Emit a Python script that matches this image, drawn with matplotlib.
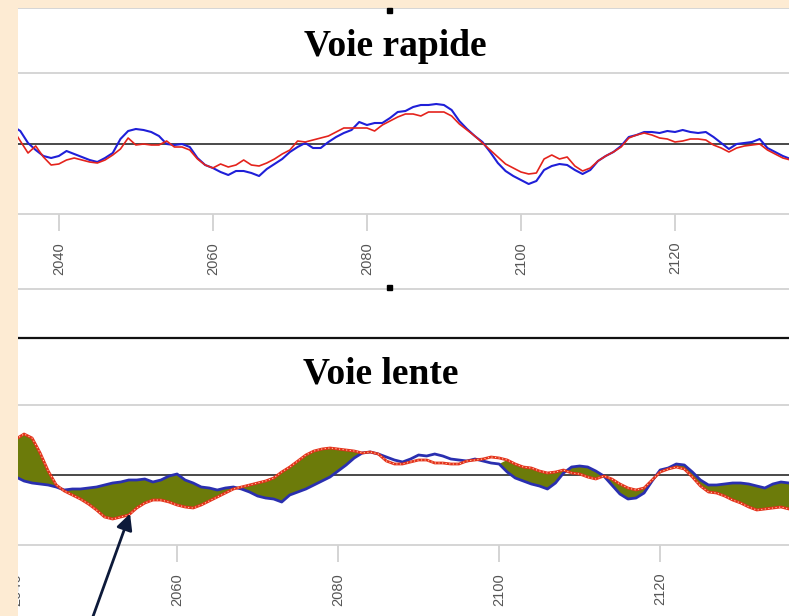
import numpy as np
import matplotlib
matplotlib.use('Agg')
import matplotlib.pyplot as plt
from matplotlib.lines import Line2D
from matplotlib.patches import Rectangle, FancyArrowPatch

plt.rcParams['font.family'] = ['Liberation Sans', 'DejaVu Sans']

W, H = 789, 616

# Voie rapide : ecarts relevés au km (bleu / rouge)
pk_rapide = np.arange(2034, 2136)
rapide_bleu = [18, 13, 1, -6, -12, -14, -12, -7, -10, -13,
               -16, -18, -14, -9, 5, 13, 15, 14, 12, 8,
               0, -1, 0, -3, -14, -21, -24, -28, -31, -27,
               -27, -29, -32, -25, -20, -15, -8, -3, 1, -4,
               -4, 2, 7, 11, 14, 22, 19, 21, 21, 26,
               32, 33, 37, 39, 39, 40, 39, 34, 23, 15,
               8, 2, -8, -19, -27, -32, -36, -40, -37, -26,
               -22, -20, -21, -26, -30, -26, -17, -12, -8, -2,
               7, 9, 12, 12, 11, 13, 12, 14, 12, 11,
               12, 7, 1, -5, 0, 1, 2, 5, -4, -8,
               -12, -15]
rapide_rouge = [15, 3, -9, -2, -13, -21, -20, -16, -14, -16,
                -18, -19, -16, -11, -5, 6, -1, 0, -1, -1,
                3, -3, -3, -6, -15, -21, -24, -20, -23, -21,
                -16, -21, -22, -19, -15, -10, -6, 3, 2, 4,
                6, 8, 12, 16, 16, 16, 16, 13, 19, 23,
                27, 30, 30, 28, 32, 32, 32, 28, 20, 14,
                8, 1, -6, -13, -20, -24, -28, -30, -29, -15,
                -11, -15, -13, -22, -27, -24, -17, -12, -8, -3,
                6, 9, 11, 9, 6, 5, 2, 3, 5, 5,
                4, -1, -4, -8, -4, -2, -1, 0, -6, -10,
                -14, -16]

# Voie lente
pk_lente = np.arange(2040, 2137)
lente_bleu = [-2, -6, -8, -9, -10, -12, -15, -14, -14, -13,
              -12, -10, -8, -7, -5, -5, -4, -7, -5, -1,
              1, -5, -8, -12, -13, -15, -13, -12, -14, -17,
              -21, -23, -24, -27, -20, -17, -14, -10, -6, -2,
              4, 10, 17, 22, 23, 21, 18, 15, 13, 16,
              20, 19, 21, 19, 16, 15, 14, 16, 14, 12,
              11, 3, -3, -6, -9, -11, -14, -8, 2, 8,
              9, 8, 4, -1, -10, -19, -24, -23, -18, -6,
              5, 7, 11, 10, 3, -5, -10, -10, -9, -8,
              -8, -9, -11, -13, -9, -7, -8]
lente_rouge = [36, 41, 37, 22, 4, -10, -16, -20, -24, -29,
               -35, -42, -44, -42, -40, -33, -28, -25, -25, -27,
               -30, -32, -33, -30, -26, -22, -18, -14, -12, -10,
               -8, -6, -3, 3, 8, 14, 20, 24, 26, 27,
               26, 25, 24, 22, 23, 21, 14, 11, 11, 13,
               15, 15, 12, 12, 11, 11, 14, 15, 16, 18,
               17, 15, 11, 8, 7, 4, 2, 3, 5, 2,
               1, -2, -4, -1, -4, -9, -13, -15, -13, -5,
               3, 6, 8, 6, -2, -11, -17, -18, -21, -25,
               -28, -32, -35, -34, -33, -32, -34]

ticks_pk = [2040, 2060, 2080, 2100, 2120]

fig = plt.figure(figsize=(W / 100, H / 100), dpi=100)
fig.patch.set_facecolor('white')


def fx(px):
    return px / W


def fy(py):
    return 1 - py / H


def hline(py, color='#d2d2d2', lw=1.3, x0=18):
    fig.add_artist(Line2D([fx(x0), 1], [fy(py), fy(py)], color=color, lw=lw))


def style_axes(ax):
    for s in ax.spines.values():
        s.set_visible(False)
    ax.set_yticks([])
    ax.set_xticks(ticks_pk)
    ax.tick_params(axis='x', length=12, width=1.2, color='#cdcdcd', pad=8,
                   labelsize=10.5, labelcolor='#555555', labelrotation=90)
    ax.axhline(0, color='#3a3a3a', lw=1.3, zorder=1)


# haut : voie rapide
ax1 = fig.add_axes([fx(18), fy(214), fx(W) - fx(18), (214 - 73) / H])
ax1.set_xlim(2034.7, 2134.8)
ax1.set_ylim(-70, 71)
style_axes(ax1)
ax1.plot(pk_rapide, rapide_bleu, color='#1f1fd8', lw=1.5, zorder=2)
ax1.plot(pk_rapide, rapide_rouge, color='#e4231c', lw=1.2, zorder=3)

# bas : voie lente
ax2 = fig.add_axes([fx(16), fy(545), fx(W) - fx(16), (545 - 405) / H])
ax2.set_xlim(2040.0, 2136.0)
ax2.set_ylim(-70, 70)
style_axes(ax2)
bleu = np.array(lente_bleu)
rouge = np.array(lente_rouge)
zone = (pk_lente < 2083) | (pk_lente > 2100)
ax2.fill_between(pk_lente, bleu, rouge, where=zone, interpolate=True,
                 color='#6c7b0a', lw=0, zorder=2)
ax2.plot(pk_lente, bleu, color='#2a2fb0', lw=2.0, zorder=3)
ax2.plot(pk_lente, rouge, color='#e4321c', lw=2.0, zorder=4)
ax2.plot(pk_lente, rouge, color='#ffd9b0', lw=0.7, ls=(0, (1.2, 2.5)), zorder=5)

# cadres
hline(8)
hline(73)
hline(214)
hline(289)
hline(338, color='#111111', lw=1.6)
hline(405)
hline(545)

fig.text(fx(395), fy(56), 'Voie rapide', ha='center', va='baseline',
         family='Liberation Serif', weight='bold', fontsize=27)
fig.text(fx(381), fy(383), 'Voie lente', ha='center', va='baseline',
         family='Liberation Serif', weight='bold', fontsize=27)

# poignées de sélection
for py in (10, 287):
    fig.add_artist(Rectangle((fx(386.5), fy(py + 2.5)), 5 / W, 5 / H,
                             transform=fig.transFigure, color='black', zorder=12))

# bandes de fond
fig.add_artist(Rectangle((0, fy(8)), 1, 8 / H, transform=fig.transFigure,
                         color='#fdebd3', lw=0, zorder=10))
fig.add_artist(Rectangle((0, 0), fx(18), 1, transform=fig.transFigure,
                         color='#fdebd3', lw=0, zorder=10))

fig.add_artist(FancyArrowPatch((fx(91), fy(622)), (fx(131), fy(511)),
                               transform=fig.transFigure, arrowstyle='-|>',
                               mutation_scale=24, color='#0d1a3a', lw=2.0,
                               zorder=11))

fig.savefig('out.png', dpi=100)
